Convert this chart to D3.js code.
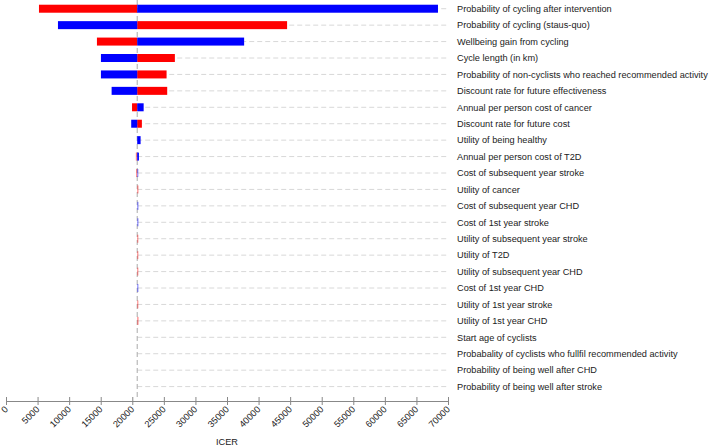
<!DOCTYPE html>
<html><head><meta charset="utf-8">
<script src="https://cdn.jsdelivr.net/npm/d3@7"></script>
<style>body{margin:0;background:#fff;} svg{display:block;font-family:"Liberation Sans",Arial,sans-serif;}</style>
</head><body><svg id="c" width="709" height="447"></svg>
<script>
const categories = [
 "Probability of cycling after intervention",
 "Probability of cycling (staus-quo)",
 "Wellbeing gain from cycling",
 "Cycle length (in km)",
 "Probability of non-cyclists who reached recommended activity",
 "Discount rate for future effectiveness",
 "Annual per person cost of cancer",
 "Discount rate for future cost",
 "Utility of being healthy",
 "Annual per person cost of T2D",
 "Cost of subsequent year stroke",
 "Utility of cancer",
 "Cost of subsequent year CHD",
 "Cost of 1st year stroke",
 "Utility of subsequent year stroke",
 "Utility of T2D",
 "Utility of subsequent year CHD",
 "Cost of 1st year CHD",
 "Utility of 1st year stroke",
 "Utility of 1st year CHD",
 "Start age of cyclists",
 "Probabality of cyclists who fullfil recommended activity",
 "Probability of being well after CHD",
 "Probability of being well after stroke"
];
const baseICER = 20780;
const redValues  = [5222, 44517, 14401, 26745, 25430, 25530, 19960, 21520, 20780, 20560, 20600, 20980, 20780, 20780, 20960, 20960, 20960, 20780, 20960, 20990, 20780, 20780, 20780, 20780];
const blueValues = [68413, 8229, 37713, 15034, 15034, 16727, 21800, 19830, 21316, 21050, 20960, 20780, 20980, 20980, 20780, 20780, 20780, 20970, 20780, 20780, 20780, 20780, 20780, 20780];
const xTicks = [0,5000,10000,15000,20000,25000,30000,35000,40000,45000,50000,55000,60000,65000,70000];

const svg = d3.select("#c");
const x = d3.scaleLinear().domain([0,70000]).range([6,448]);
const y = d3.scaleBand().domain(categories).range([0.5,394.8]);
const bh = 8;
const axisY = 401;

// gridlines
svg.append("g").selectAll("line").data(categories).join("line")
  .attr("x1", x(baseICER)).attr("x2", 448)
  .attr("y1", d=>y(d)+y.bandwidth()/2).attr("y2", d=>y(d)+y.bandwidth()/2)
  .attr("stroke","#d8d8d8").attr("stroke-width",1).attr("stroke-dasharray","5,3");

// baseline
svg.append("line").attr("x1",x(baseICER)).attr("x2",x(baseICER))
  .attr("y1",0).attr("y2",398)
  .attr("stroke","#aaa").attr("stroke-width",1).attr("stroke-dasharray","5,3");

// bars
const rows = categories.map((c,i)=>({c, red:redValues[i], blue:blueValues[i]}));
const g = svg.append("g");
rows.forEach(r=>{
  [["red","#ff0000"],["blue","#0000ff"]].forEach(([k,col])=>{
    const v = r[k];
    if (v===baseICER) return;
    const w = Math.abs(x(v)-x(baseICER));
    g.append("rect")
      .attr("x", x(Math.min(v,baseICER)))
      .attr("width", w)
      .attr("y", y(r.c)+y.bandwidth()/2-bh/2)
      .attr("height", bh)
      .attr("fill", col)
      .attr("fill-opacity", w < 1.5 ? 0.45 : 1);
  });
});

// labels
svg.append("g").selectAll("text").data(categories).join("text")
  .attr("x",457).attr("y",d=>y(d)+y.bandwidth()/2)
  .attr("dy","0.35em").attr("font-size","9.2px").attr("fill","#222")
  .text(d=>d);

// axis
const ax = svg.append("g").attr("transform",`translate(0,${axisY})`)
  .call(d3.axisBottom(x).tickValues(xTicks).tickFormat(d3.format("d")).tickSize(4).tickSizeOuter(0));
ax.select(".domain").attr("stroke","#888");
ax.selectAll(".tick line").attr("stroke","#888").attr("y1",-4).attr("y2",4);
ax.selectAll(".tick text")
  .attr("font-size","9.2px").attr("fill","#222").attr("font-family","Liberation Sans, Arial, sans-serif")
  .attr("text-anchor","end").attr("dy","0").attr("y",0)
  .attr("transform","translate(2,9) rotate(-45)");

svg.append("text").attr("x",227).attr("y",445).attr("text-anchor","middle")
  .attr("font-size","9.2px").attr("fill","#222").text("ICER");
</script></body></html>
